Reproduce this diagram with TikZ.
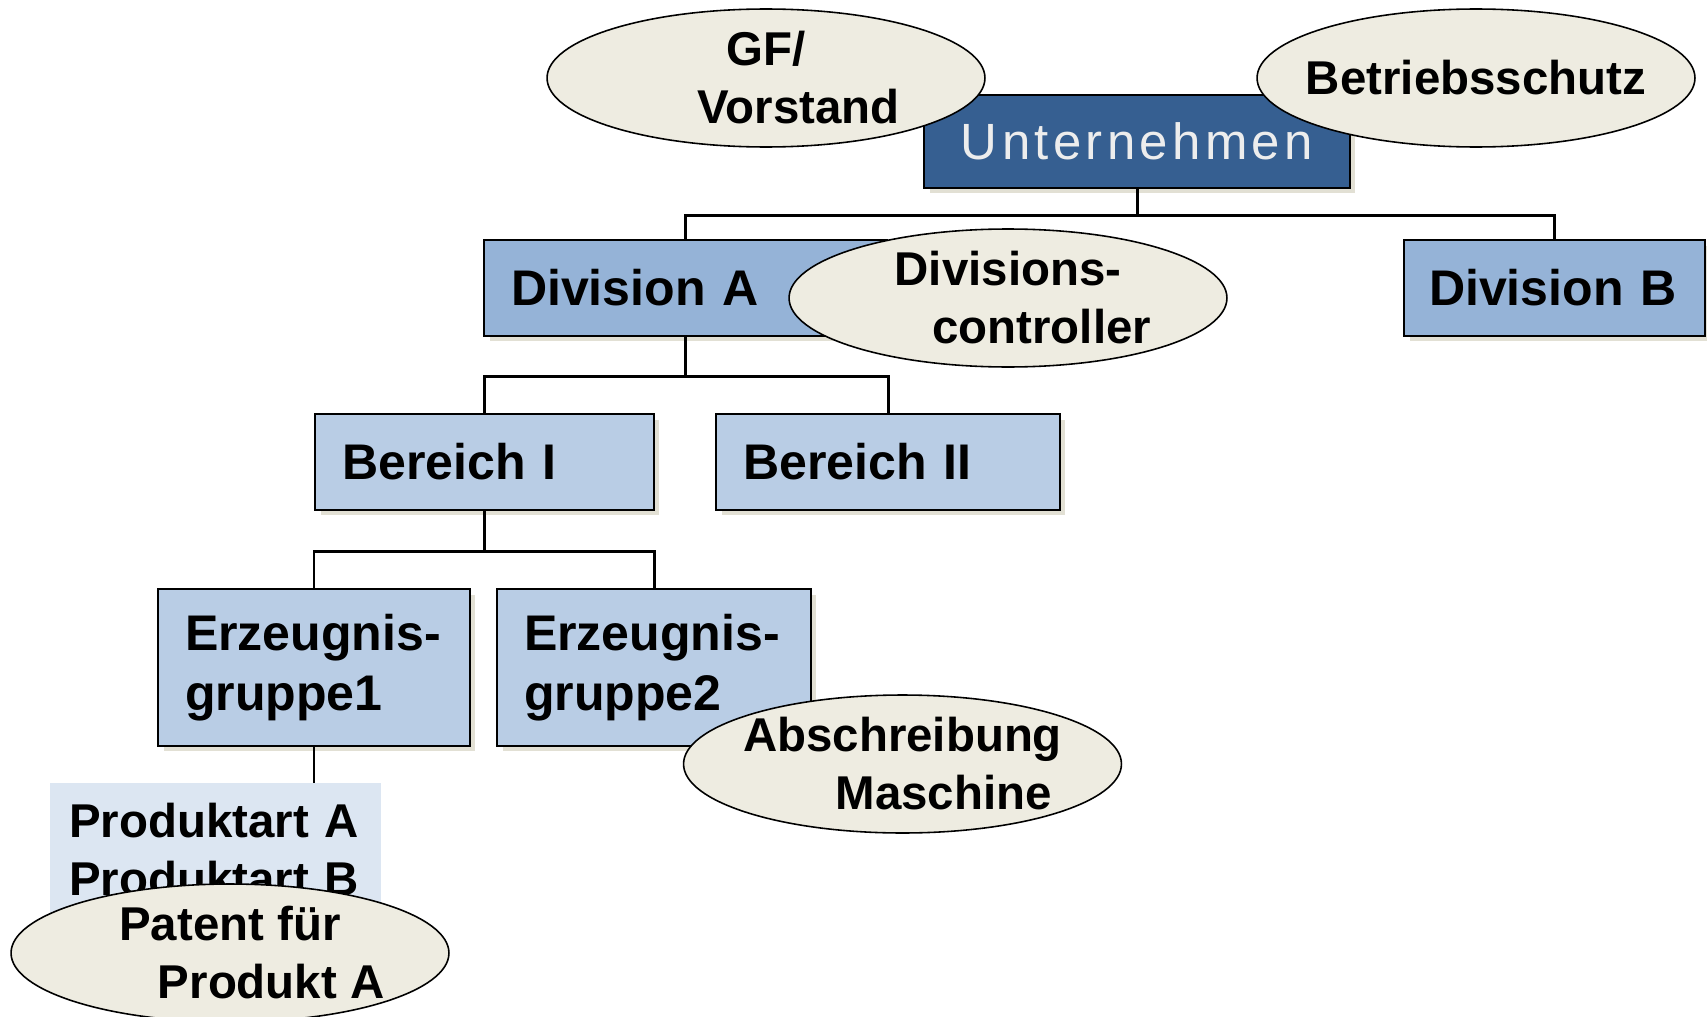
\documentclass[tikz,border=0pt]{standalone}
\usepackage{fontspec}
\setmainfont{Liberation Sans}
\usepackage{tikz}
\usetikzlibrary{shapes.geometric,shadows}
\definecolor{topblue}{RGB}{54,95,145}
\definecolor{divblue}{RGB}{149,179,215}
\definecolor{subblue}{RGB}{185,205,229}
\definecolor{prodblue}{RGB}{220,230,242}
\definecolor{notefill}{RGB}{238,236,225}
\definecolor{shadowgray}{RGB}{226,224,212}

\begin{document}
\begin{tikzpicture}[x=0.02cm,y=-0.02cm,
  boxshadow/.style={drop shadow={shadow xshift=0.11cm,shadow yshift=-0.11cm,fill=shadowgray,opacity=1}},
  unitbox/.style={draw=black,line width=1.4pt,align=left,inner xsep=0.54cm,inner ysep=0pt,
    font=\fontsize{28.5}{34}\selectfont\bfseries,boxshadow},
  divbox/.style={unitbox,fill=divblue,minimum height=1.92cm},
  subbox/.style={unitbox,fill=subblue,minimum height=1.92cm},
  groupbox/.style={unitbox,fill=subblue,minimum height=3.14cm},
  note/.style={ellipse,draw=black,line width=0.9pt,fill=notefill,inner xsep=-1cm,inner ysep=0pt,
    minimum width=8.76cm,minimum height=2.76cm,align=center,
    font=\fontsize{27}{33}\selectfont\bfseries},
  link/.style={draw=black,line width=1.7pt}
  ]
  \useasboundingbox (0,0) rectangle (1707,1017);
  \node[draw=black,line width=1.4pt,fill=topblue,minimum width=8.52cm,minimum height=1.86cm,
    text=white!93!black,font=\fontsize{29}{34}\selectfont\addfontfeature{LetterSpace=8.5},
    boxshadow] (unt) at (1137,141.5) {Unternehmen};
  \node[divbox,text width=6.98cm] (diva) at (685.5,288) {Division A};
  \node[divbox,inner xsep=0.5cm,text width=5.02cm] (divb) at (1554.5,288) {Division B};
  \node[subbox,text width=5.70cm] (ber1) at (484.5,462) {Bereich I};
  \node[subbox,text width=5.80cm] (ber2) at (888,462) {Bereich II};
  \node[groupbox,text width=5.16cm] (erz1) at (314,667.5) {Erzeugnis-\\gruppe1};
  \node[groupbox,text width=5.20cm] (erz2) at (654,667.5) {Erzeugnis-\\gruppe2};
  \node[fill=prodblue,anchor=north west,text width=5.86cm,inner xsep=0.38cm,inner ysep=0.4cm,
    align=left,font=\fontsize{27}{33}\selectfont\bfseries] (prod) at (50,783) {Produktart A\\Produktart B};

  \draw[link] (unt.south) -- ++(0,26) -| (diva.north);
  \draw[link] (unt.south) -- ++(0,26) -| (divb.north);
  \draw[link] (diva.south) -- ++(0,39) -| (ber1.north);
  \draw[link] (diva.south) -- ++(0,39) -| (ber2.north);
  \draw[link] (ber1.south) -- ++(0,40) -| (erz1.north);
  \draw[link] (ber1.south) -- ++(0,40) -| (erz2.north);
  \draw[link] (erz1.south) -- (erz1.south |- prod.north);

  \node[note] (gf) at (766,78) {GF/\\\hspace*{1.3cm}Vorstand};
  \node[note] (schutz) at (1476,78) {Betriebsschutz};
  \node[note] (contr) at (1008,298) {Divisions-\\\hspace*{1.35cm}controller};
  \node[note] (abschr) at (902.5,764) {Abschreibung\\\hspace*{1.65cm}Maschine};
  \node[note] (patent) at (230,953) {Patent für\\\hspace*{1.65cm}Produkt A};
\end{tikzpicture}
\end{document}
